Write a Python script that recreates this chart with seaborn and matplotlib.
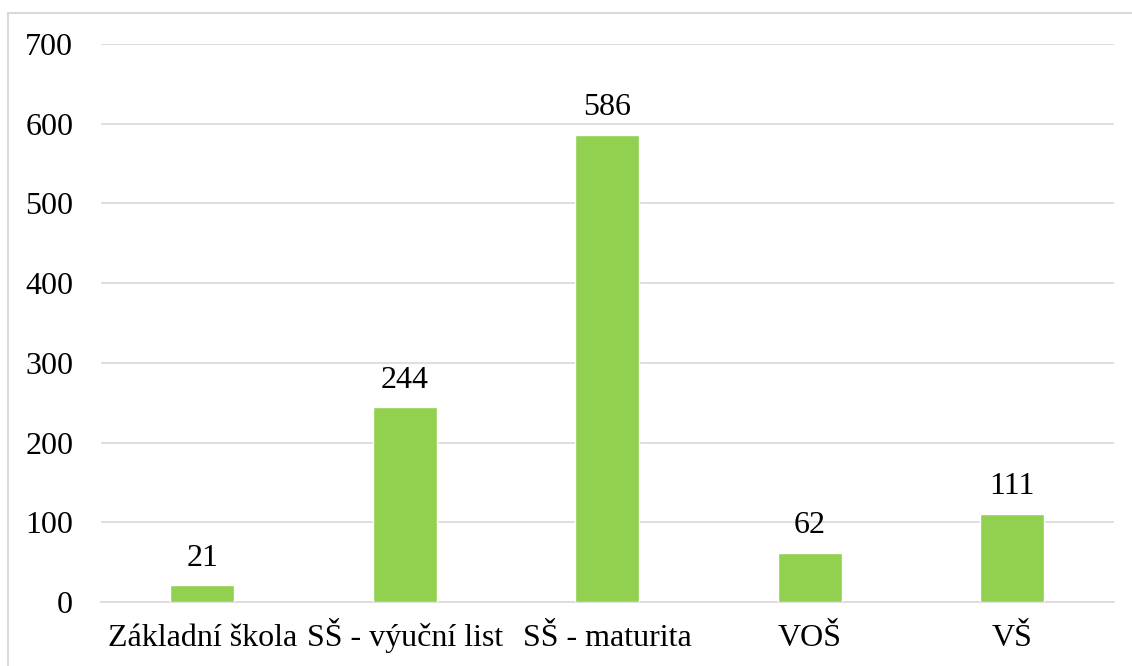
import matplotlib
matplotlib.use("Agg")
import matplotlib.pyplot as plt
import seaborn as sns
import pandas as pd
from matplotlib.patches import Rectangle

categories = ["Základní škola", "SŠ - výuční list", "SŠ - maturita", "VOŠ", "VŠ"]
values = [21, 244, 586, 62, 111]
yticks = [0, 100, 200, 300, 400, 500, 600, 700]

sns.set_theme(style="white")
plt.rcParams['font.family'] = ['Liberation Serif', 'DejaVu Serif']

df = pd.DataFrame({"cat": categories, "val": values})

fig = plt.figure(figsize=(11.32, 6.66), dpi=100)
ax = fig.add_axes([101/1132, 1 - 602/666, 1012.5/1132, 558/666])

sns.barplot(data=df, x="cat", y="val", color="#92D050", width=0.316, ax=ax, saturation=1)

FS = 23
ax.set_ylim(0, 700)
ax.set_xlim(-0.5, 4.5)
ax.set_yticks(yticks)
ax.set_yticklabels([str(t) for t in yticks], fontsize=FS, color="black")
ax.tick_params(axis='x', labelsize=FS, colors="black", length=0, pad=32)
for lab in ax.get_xticklabels():
    lab.set_verticalalignment("baseline")
ax.tick_params(axis='y', length=0, pad=20)
ax.set_xlabel("")
ax.set_ylabel("")
ax.yaxis.grid(True, color="#d9d9d9", linewidth=1.2)
ax.set_axisbelow(True)
for s in ["top", "right", "left"]:
    ax.spines[s].set_visible(False)
ax.spines["bottom"].set_color("#d9d9d9")
ax.spines["bottom"].set_linewidth(1.2)
ax.spines["bottom"].set_zorder(0.5)

for i, v in enumerate(values):
    ax.annotate(str(v), (i, v), xytext=(0, 9), textcoords="offset points",
                ha="center", va="bottom", fontsize=FS, color="black")

fig.patches.append(Rectangle((8/1132, -0.1), 1.2, 1.1 - 13/666, transform=fig.transFigure,
                             fill=False, edgecolor="#d9d9d9", linewidth=1.5))

fig.savefig("out.png", dpi=100)
